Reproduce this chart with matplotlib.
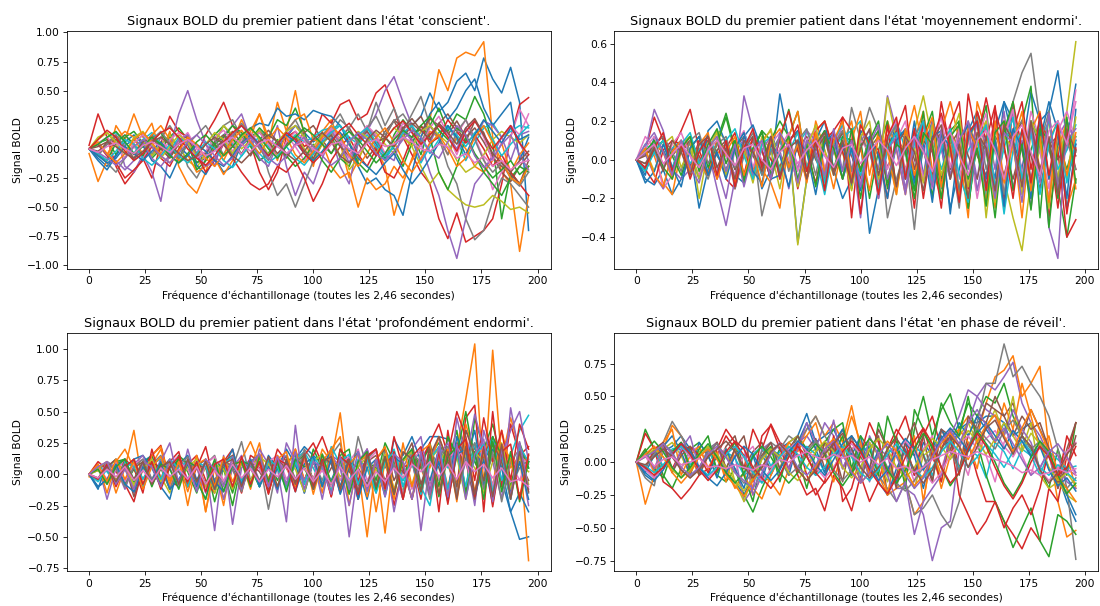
import numpy as np
import matplotlib
matplotlib.use("Agg")
import matplotlib.pyplot as plt

# BOLD signals of the first patient, one list per region, sampled every 4th frame.
# Values are stored in hundredths of the signal unit.
step = 4

# --- state: conscient ---
cons_00 = [0, -8, -15, -5, 3, 8, 2, -6, 4, 10,
           2, -5, -12, -8, 2, 6, -4, 3, 10, 16,
           8, 2, 10, 20, 14, 6, 12, 18, 8, -2,
           6, 14, 4, -8, 2, 12, 20, 28, 48, 32,
           40, 58, 65, 50, 78, 60, 48, 70, 40, -70]
cons_01 = [-4, -28, -10, 20, 8, 30, 10, 22, -5, 15,
           -15, -30, -38, -20, 5, -10, 6, 25, 10, 30,
           5, 40, 15, 50, 10, -15, 15, 25, 5, -25,
           -10, 8, 0, -15, -57, -30, -8, 10, 25, 68,
           50, 78, 83, 80, 92, 10, -20, -30, -88, -40]
cons_02 = [0, 5, 8, -5, 10, 15, 5, -8, 0, 10,
           18, 8, -12, -5, 12, 20, 10, -5, 8, 18,
           10, 25, 20, 35, 15, -10, 5, 12, -8, -15,
           5, 18, 10, -10, 12, 25, 15, -5, 20, 35,
           15, 30, 25, 45, 30, 5, -60, -20, -30, -15]
cons_03 = [3, 30, 10, -15, -30, -20, -8, -25, 5, 28,
           15, 10, -5, 12, 25, 40, 20, 10, 5, -20,
           -35, -20, 10, 15, 2, 8, 30, 22, 38, 42,
           25, 30, 48, 55, 35, 10, -5, -20, -30, -60,
           -77, -55, -80, -75, -70, -60, -30, 10, 38, 44]
cons_04 = [0, -5, 5, 12, -15, -20, -5, -20, -45, 0,
           30, 50, 25, 5, -15, 12, 20, 30, 8, -10,
           -5, 20, -15, -40, -20, -30, -8, 10, -15, -30,
           5, 15, 30, 50, 62, 40, 20, 5, -20, -40,
           -70, -94, -60, -30, -20, -5, 10, 20, 5, -10]
cons_05 = [0, -4, 6, 10, 2, -8, 4, 12, 2, -6,
           5, 12, -4, -10, 0, 8, 15, 5, -6, 8,
           16, 6, -8, 4, 14, 20, 8, -4, 10, 18,
           5, -8, 2, 15, 24, 10, 20, 28, 12, 22,
           30, 18, 6, 24, 14, -6, -20, -28, -15, -5]
cons_06 = [0, 4, -5, 8, 12, 2, -8, 5, 10, -4,
           6, 14, 0, -10, 4, 10, -2, 8, 14, 4,
           -6, 6, 12, 2, -10, 0, 10, 16, 4, -8,
           8, 14, 2, -6, 10, 18, 6, 14, 20, 8,
           -4, 12, 25, 10, -8, -35, -20, 10, 34, 20]
cons_07 = [0, -5, -12, -20, -8, 5, 12, -5, 10, 20,
           8, -15, -25, -10, 5, 20, 25, 10, 18, 8,
           -20, -40, -30, -50, -30, -10, 5, 12, 25, 18,
           30, 15, 40, 20, 35, 15, 30, 45, 20, 10,
           -15, -30, -60, -78, -70, -45, -25, -30, -40, -50]
cons_08 = [0, 10, 14, 4, -8, 2, 8, -6, 4, 12,
           2, -10, -16, -4, 6, 20, 12, 0, 8, 16,
           4, -6, 4, 12, 0, -10, 4, 14, 6, -18,
           -8, 6, 14, 4, -4, 10, 2, -15, -30, -20,
           -35, -42, -48, -50, -48, -40, -45, -52, -50, -55]
cons_09 = [0, 4, 10, 14, 6, -4, 8, 14, 4, -2,
           10, 4, -8, -4, 6, 12, 4, -6, 4, 10,
           2, -8, 4, 12, 6, 10, 16, 18, 20, 10,
           4, 12, 2, -10, 4, 16, 8, -12, 2, 14,
           20, 8, -10, 5, 18, 22, 10, 15, 20, 18]
cons_10 = [0, -10, -18, -6, 6, 12, 4, -10, -15, -25,
           -8, 4, -14, -22, -8, -20, -15, 5, 18, 22,
           20, 35, 28, 30, 25, 33, 30, 28, 20, 5,
           -15, -30, -25, -35, -40, -57, -20, 10, 30, 40,
           25, 35, 50, 60, 35, 20, 30, 40, -10, 10]
cons_11 = [0, 5, -5, 8, 15, 10, -5, 12, 20, 8,
           -10, -5, -20, -15, -8, -22, -10, 5, 15, 30,
           10, -10, 15, 25, 30, 8, 5, -15, -25, -20,
           -50, -25, -35, -30, -15, -25, -10, 5, 15, 10,
           -5, 10, 0, -15, -20, -10, 5, -20, -5, 5]
cons_12 = [0, -5, -10, 5, 12, 4, -6, 8, 14, 2,
           -8, 6, -18, -10, 4, 10, 20, 14, 2, -10,
           -4, 8, -6, -15, -8, 4, -10, -20, -8, 6,
           -12, -20, -6, 10, 0, -15, 5, 20, 10, -20,
           -35, -15, 10, -5, -20, -30, -40, -25, -15, -20]
cons_13 = [0, 4, -6, -12, -25, -18, -10, 2, -8, -15,
           0, 10, -5, -20, -10, 4, -8, -20, -30, -35,
           -30, -15, -20, -10, -25, -45, -30, -10, 2, 10,
           -5, -15, 0, -20, -25, -10, 10, 20, 5, 10,
           25, 15, 5, 12, 0, -15, -5, -20, -30, -40]
cons_14 = [0, 5, -5, -10, -18, -10, 5, -8, -15, -5,
           8, 12, -5, -15, -10, 5, 12, 20, 10, -8,
           -15, 5, 12, 20, 10, -5, 8, 15, 5, -12,
           8, 18, 10, -5, -10, 15, 8, -10, 5, 22,
           12, 0, 18, 8, 24, 20, 10, -10, 12, 15]
cons_15 = [0, -2, 4, 8, 2, -5, 6, 10, 0, -8,
           4, 8, -6, -4, 6, 12, 2, -4, 8, 14,
           6, -4, 4, 10, -2, -8, 6, 12, 2, -6,
           8, 15, 5, 10, 25, 18, 22, 15, 26, 20,
           12, 24, 10, 18, 6, -8, -15, -22, -30, -10]
cons_16 = [0, 5, 10, 2, -8, 5, 12, 4, -6, 8,
           14, 5, -8, -2, 10, 16, 6, -5, 8, 14,
           4, -8, 6, 15, 8, -4, 10, 18, 8, -6,
           10, 20, 12, -4, 8, 22, 14, 2, 18, 28,
           12, -5, 15, 25, 10, -10, 5, 20, 12, 30]
cons_17 = [0, -6, 4, 12, 2, -10, -4, 8, 15, 5,
           -8, 4, 12, 20, 8, -5, 10, 22, 12, 0,
           -10, 5, 15, 25, 10, -5, 12, 20, 30, 15,
           5, 18, 28, 12, 24, 30, 18, 6, 20, 10,
           -5, 15, 25, 8, -10, -20, -12, -25, -32, -20]
cons_18 = [0, 8, 14, 6, -4, 10, 15, 4, -8, 2,
           12, 6, -6, 4, 14, 8, -4, 10, 18, 8,
           -5, 6, 15, 20, 10, 2, 12, 8, -6, 5,
           15, 10, -4, 8, 18, 12, 2, 15, 20, 12,
           5, -10, -20, -15, -5, 8, 15, 10, 5, 12]
cons_19 = [0, -4, -10, -2, 8, 4, -8, -14, -6, 4,
           -6, -12, -4, 6, 0, -10, -16, -6, 4, -4,
           -12, -6, 2, -8, -14, -4, 6, 14, 20, 8,
           12, 18, 6, -6, 2, 14, 20, 10, -4, 8,
           18, 12, 2, 14, 20, 8, -6, 4, 12, 20]
cons_20 = [0, -6, -12, -8, 2, -4, -10, -2, 6, -5,
           -12, -6, 4, -2, -10, -15, -6, 5, 12, 4,
           -6, 5, 12, 6, -4, -10, -2, 8, 14, 4,
           -8, -15, -22, -12, -4, -18, -30, -20, -8, 5,
           20, 10, -5, 12, 25, 15, 5, 18, 8, 12]
cons_21 = [0, 6, -4, -12, -4, 8, 14, 6, -6, -12,
           -2, 10, 4, -8, -15, -5, 8, 16, 6, -4,
           8, 18, 10, -5, -12, -2, 10, 20, 12, -5,
           -15, -4, 10, 18, 6, -10, -20, -8, 5, 12,
           0, -15, -8, 10, 20, 5, -10, -25, -30, -15]
cons_22 = [0, 4, 10, 15, 6, -4, 2, 10, 4, -6,
           -12, -4, 6, 12, 4, -6, 2, 12, 18, 10,
           0, -8, 2, 10, 18, 12, 4, -4, 8, 15,
           8, -2, -12, -4, 8, 16, 10, 20, 28, 16,
           8, 18, 12, -4, -15, -25, -18, -10, -22, -15]
cons_23 = [0, 8, 16, 10, -2, -10, -4, 6, 14, 18,
           10, 0, -8, -14, -6, 6, 14, 20, 12, 2,
           -6, 4, 14, 8, -4, -12, -4, 6, 16, 22,
           12, 4, -6, 8, 18, 24, 14, 4, 12, 20,
           10, -2, 15, 24, 12, 0, 10, 20, 5, -5]
cons_24 = [0, -3, -8, -14, -8, 2, 8, 2, -6, -12,
           -4, 6, 12, 4, -6, -14, -8, 4, 10, 2,
           -8, -14, -6, 4, 10, 2, -6, -14, -8, 6,
           14, 8, -4, -10, -2, 8, 16, 10, -2, -8,
           6, 20, 12, -6, -16, -8, 4, 12, -5, -18]
cons_25 = [0, 2, 6, 2, -4, -8, -2, 6, 10, 4,
           -4, -10, -6, 4, 10, 4, -6, -12, -4, 6,
           12, 6, -4, -10, -2, 8, 14, 6, -6, -12,
           -4, 8, 16, 10, 2, 18, 26, 16, 8, 22,
           14, 4, 18, 26, 12, -4, -12, -20, -10, -2]
cons_26 = [0, -3, 2, 5, 0, -4, 3, 6, 2, -3,
           4, 8, 2, -6, -2, 5, 10, 4, -2, 5,
           8, 2, -4, 3, 6, 0, -5, 4, 6, 0,
           -4, 5, 8, 2, 4, 10, 6, 0, -2, 4,
           2, -8, -4, -12, -6, -15, -10, -18, -12, -10]

# --- state: moyennement endormi ---
moy_00 = [0, -10, -13, -5, -18, -10, 5, -25, -5, 10,
          2, -8, -12, 5, -15, -5, 34, 10, -43, -10,
          5, 15, -5, -20, -10, 10, -38, -15, 5, 18,
          10, -15, 5, 20, 8, -25, -5, 15, 25, 10,
          -10, 30, 20, 5, 35, 20, 25, 46, 10, 39]
moy_01 = [0, 5, 2, -12, -18, 5, 8, -2, 10, 3,
          8, -12, 5, 10, -5, -12, -25, 10, 15, -10,
          20, 5, -15, 8, 20, -10, 5, -15, 20, 5,
          -18, 10, 25, -5, -20, 15, 5, -30, 30, 15,
          -25, 10, 30, -15, 20, -5, 10, 20, -25, -10]
moy_02 = [0, 5, 8, 4, -6, 8, 12, -4, 5, 10,
          24, 6, -8, 4, 15, 10, 20, 12, 25, -5,
          10, -15, 5, 15, -10, 10, -20, 5, 20, -15,
          10, -5, 25, -20, 15, -10, 20, -25, 10, 28,
          -20, 15, 10, 20, 38, -30, 25, -15, -40, -10]
moy_03 = [0, 5, 22, 10, 5, 15, 26, 5, -8, 10,
          -10, -15, 5, -8, 10, 0, -5, 10, -15, 5,
          -12, 10, 15, 22, -30, 15, 10, -20, 18, -15,
          10, -25, 20, -10, 30, 5, -20, 34, 10, 32,
          10, -25, 30, 5, -20, 15, -30, 5, -40, -31]
moy_04 = [0, 5, 26, 15, -5, -10, -5, 10, 5, -15,
          -34, -10, 33, 15, 5, -10, 5, -15, 10, -5,
          5, 15, 10, -10, 5, -30, 10, -5, 33, 15,
          -10, 5, 20, -15, 10, 5, -20, 15, -10, 20,
          -5, 25, -15, 10, -25, 15, -35, -51, 20, 10]
moy_05 = [0, 3, 6, -4, 2, 8, -3, 5, 10, 2,
          -5, 6, 12, 2, -6, 4, 10, -2, 6, 12,
          0, -8, 5, 14, 2, -10, 6, 12, -4, 8,
          15, 0, -10, 8, 14, -5, 10, 18, 2, -8,
          12, 5, -10, 8, 15, -5, 10, 0, 8, 2]
moy_06 = [0, 12, 6, -15, -8, 5, 10, -5, 8, 15,
          2, -8, 5, 12, -4, 8, 14, 0, -10, 6,
          14, 2, -6, 10, 4, -12, 8, 15, -5, 10,
          20, -5, 15, -15, 10, 18, -10, 12, -20, 5,
          20, -10, 15, -5, 25, 10, -15, 20, 5, 36]
moy_07 = [0, -2, 3, 10, -8, 5, 12, 0, -10, 5,
          8, -15, 2, 10, -29, -10, 5, 12, -5, 10,
          -8, 15, 5, -5, 27, 10, 27, 15, -30, -10,
          5, -36, 10, 15, -15, 5, -25, 20, 5, -20,
          15, 10, 30, 45, 55, 20, 5, -10, 15, 5]
moy_08 = [0, 4, 10, 5, -6, 8, 12, -20, 5, 15,
          10, -5, 8, -10, 12, 5, -15, 10, -44, -10,
          12, 5, -8, 10, -15, 20, 5, -10, 32, 10,
          -5, 15, 33, 10, -20, 5, -15, 10, 20, -30,
          10, -10, -30, -47, -10, 5, 20, -10, 25, 61]
moy_09 = [0, 8, 4, -5, 6, 10, -2, 5, 12, 3,
          -6, 8, 14, 4, -8, 5, 10, -4, 8, 15,
          2, -18, 6, 12, 15, 20, 5, -8, 10, 20,
          5, -12, 8, 15, -5, 10, -15, 5, 12, -20,
          8, -28, 5, 15, -15, 10, 20, -5, 5, 18]
moy_10 = [0, -8, 12, 5, -5, 10, 4, -10, 15, 20,
          8, -5, 12, 18, 5, -10, -8, 10, 15, -5,
          10, 20, -5, 8, -15, 15, 10, -12, 5, 15,
          -10, 20, -8, 12, 15, -28, 10, 18, 5, -10,
          15, 30, 10, -5, 20, 10, 30, 15, -20, 26]
moy_11 = [0, -5, 8, 4, -10, 5, 10, -2, -8, 10,
          5, -12, 8, -5, 10, 15, -8, 12, 25, -5,
          15, 20, 5, -10, 10, 25, -8, 15, 5, -15,
          10, 28, 5, -12, 15, 30, 10, -20, 25, 5,
          -15, 20, 10, -30, 15, 25, -10, 5, 20, -15]
moy_12 = [0, -6, 5, 10, 2, -8, 6, 12, -4, 8,
          22, 4, -10, 5, 15, -5, 10, 26, 5, -10,
          8, 15, -5, 12, 10, -20, 8, 15, -15, 10,
          5, -20, 12, 25, -10, 15, 20, -25, 10, 5,
          -30, 15, 30, -10, 5, 20, -35, 10, -5, 12]
moy_13 = [0, -5, -12, 5, 10, 8, -6, 10, 5, -10,
          6, 14, -8, 12, 5, -10, 12, 25, 5, -10,
          15, 20, 5, 22, 15, -28, 10, 5, -20, 15,
          28, -10, 20, 5, -25, 18, 30, -15, 25, 10,
          28, -20, 15, 30, -5, 20, 10, -25, 15, -5]
moy_14 = [0, 3, -8, -15, 4, 10, -5, 8, 12, -4,
          -20, 6, 10, -8, 5, 12, -10, 8, -5, 15,
          10, -12, 5, 18, -5, 10, 15, -20, 5, 12,
          -15, 10, -8, 20, 5, -10, 15, -5, 20, 8,
          -15, 10, 25, -10, 15, 5, -20, 12, 20, 8]
moy_15 = [0, 2, 8, 12, -5, 4, 10, 2, -8, 5,
          10, -5, 6, 12, -2, 8, -4, 10, 14, -6,
          5, 12, -8, 6, 10, -5, 12, 2, -10, 8,
          15, -5, 10, 4, -12, 8, 15, 2, -10, 12,
          5, -8, 10, 20, 2, -15, 8, 12, -10, 5]
moy_16 = [0, 6, 12, -4, 8, 14, 2, -8, 6, 12,
          -2, 8, 15, -4, 10, -8, 6, 14, -6, 10,
          16, -4, 8, 18, -8, 10, 4, -12, 12, 20,
          -6, 14, -10, 8, 22, -4, 16, -12, 10, 24,
          -15, 12, 26, -8, 18, 5, -20, 15, 25, 10]
moy_17 = [0, -4, 8, 12, 4, -6, 10, 14, -2, 8,
          12, -4, 6, 14, -8, 4, 12, -6, 10, 16,
          2, -10, 8, 15, -6, 12, 4, -14, 10, 18,
          -8, 12, 20, -10, 8, 15, -16, 10, 22, -5,
          12, -18, 15, 20, -10, 8, 25, -12, 10, -5]
moy_18 = [0, 5, -6, 8, 12, -4, 6, -10, 4, 14,
          -8, 10, 4, -12, 8, 16, -6, 10, -14, 6,
          18, -8, 10, 4, -16, 12, 20, -10, 8, -18,
          14, 6, -12, 18, -8, 10, 24, -14, 8, 20,
          -22, 12, 6, -18, 20, 10, -25, 15, -10, 22]
moy_19 = [0, -6, 4, 10, -4, 8, 14, -2, 6, -8,
          10, 16, 2, -10, 8, 12, -6, 4, 14, -4,
          8, -12, 10, 18, 4, -8, 12, -16, 6, 14,
          -10, 8, 20, -12, 6, 16, -8, -22, 10, 18,
          -14, 6, 22, -10, 14, -18, 8, 20, -12, 10]
moy_20 = [0, -12, -6, 8, -4, -14, 6, 12, -8, 4,
          -10, 6, 14, -6, -12, 8, 2, -14, 10, 4,
          -18, 8, 14, -10, 6, -16, 12, 2, -20, 10,
          16, -12, 8, -22, 14, 6, -18, 12, 20, -14,
          10, -24, 16, 6, -20, 22, -10, 14, -26, 8]
moy_21 = [0, 6, -8, -14, 4, 10, -6, 8, 14, -10,
          4, 12, -8, 6, -14, 10, 16, -4, 8, -12,
          14, -6, 10, 20, -10, 6, -16, 12, 4, -18,
          16, -8, 10, 22, -14, 8, -20, 16, 6, -22,
          20, -12, 8, 25, -16, 12, -22, 18, -8, 14]
moy_22 = [0, 4, 10, -4, -10, 6, 12, -6, 8, 16,
          -2, 10, -12, 6, 14, -8, 4, 12, -10, 8,
          -14, 12, 6, -10, 16, -6, 10, 20, -12, 8,
          4, -16, 14, 8, -20, 12, 18, -10, 6, -24,
          14, 20, -16, 8, -26, 16, 10, -20, 22, -12]
moy_23 = [0, -4, 6, 14, -6, 8, -10, 4, 12, -8,
          10, -14, 6, 16, -4, 12, -10, 8, 18, -6,
          10, -16, 14, 4, -12, 18, 8, -18, 12, 22,
          -10, 16, -20, 10, 24, 6, -22, 14, 20, -16,
          26, 8, -20, 16, -12, 24, -8, 18, -28, 6]
moy_24 = [0, 8, 14, 4, -8, 10, -4, -12, 6, 12,
          -6, 8, -14, 4, 10, -10, 14, 6, -12, 10,
          4, -8, 16, -6, 10, -14, 8, 18, -10, 6,
          -18, 12, 6, -14, 16, -8, 10, 20, -16, 8,
          -20, 14, 8, -22, 18, -12, 24, -16, 10, 16]
moy_25 = [0, -2, 6, -6, 10, 4, -8, 8, 12, -4,
          6, -10, 10, 4, -6, 12, -8, 6, 10, -10,
          8, 14, -6, 10, -12, 6, 16, -8, 10, -14,
          12, 4, -16, 10, 18, -10, 8, -20, 14, 6,
          -16, 18, 10, -14, 20, -8, 12, -18, 16, 4]
moy_26 = [0, 4, 8, -2, 3, 8, 2, -4, 5, 10,
          3, -3, 6, 8, 0, -5, 4, 8, -2, 5,
          10, 2, -4, 6, 8, -2, 4, 10, 5, -3,
          6, 12, 4, -6, 8, 14, 2, -8, 10, 15,
          5, -10, 12, 18, 4, -8, 15, 20, 8, 30]

# --- state: profondément endormi ---
prof_00 = [0, -10, -5, 8, 12, -5, 10, 15, -8, 5,
           10, -4, 8, -10, 5, 12, -12, 10, 5, -8,
           15, 5, -10, 12, 22, 15, 8, -5, 12, -15,
           5, -20, 10, 5, 15, -10, 8, 20, 30, 30,
           28, 15, 35, 20, 10, 25, -5, -30, -52, -50]
prof_01 = [-2, -5, 10, -15, 5, 35, -10, 8, 20, -5,
           12, -25, 10, -30, 5, -25, 15, -10, 5, 25,
           -15, 10, 5, -10, 15, -5, 20, 10, 49, -10,
           5, -50, 10, -47, 15, -20, 10, 5, -15, 20,
           -10, 20, 60, 104, -10, 99, 10, 45, 20, -69]
prof_02 = [0, 5, -8, 10, 12, -5, 8, 15, -10, 5,
           12, 2, -15, 8, -22, 5, -25, 10, 5, -10,
           12, -5, 10, 15, -8, 20, 5, -10, 15, 20,
           -20, 10, 5, -15, 12, -5, 20, -10, 15, 25,
           10, 35, -15, 45, 20, 40, 10, -20, 25, 5]
prof_03 = [0, 5, 10, 2, -8, -22, 5, 15, 23, -5,
           -10, 8, 15, -5, -15, 10, 20, -10, 5, 15,
           -15, 10, -10, 20, -5, 15, 30, 10, -15, 5,
           -20, 20, -10, 15, -25, 5, 10, -20, 25, -30,
           35, -10, 45, 55, -30, 50, -10, 40, 15, 22]
prof_04 = [0, 8, -20, 5, 10, -15, 8, -5, 12, 5,
           -10, 20, -5, 8, -45, 15, -40, 5, 12, -5,
           8, 5, -38, 39, -15, 10, -8, 15, 10, -50,
           5, 20, -10, 15, -30, 5, 20, -45, 10, 30,
           -20, 45, 15, -25, 35, 10, -20, 53, 15, -25]
prof_05 = [0, 3, 10, -5, 8, -18, 5, 10, -3, 8,
           2, -10, 6, 12, -5, 8, 4, -8, 10, 5,
           -12, 8, 14, -4, 6, 10, -8, 5, 12, 2,
           -6, 10, 15, -5, 8, 2, -10, 12, 20, 5,
           -15, 25, 10, -20, 15, 30, 5, -15, 20, 10]
prof_06 = [0, 5, -8, 4, 10, -5, 6, 12, -2, 8,
           15, -5, 10, -8, 5, 12, -10, 8, 4, -6,
           10, 15, -4, 6, 12, -8, 5, 15, -5, 10,
           20, -5, 8, -10, 15, 5, -12, 10, 25, -5,
           12, 20, -10, 15, 5, -15, 20, 10, -5, 15]
prof_07 = [0, 4, 8, -6, 5, 12, -4, 8, 15, -5,
           10, 4, -12, 8, 15, -8, 5, 26, -5, 10,
           -28, 8, 15, -5, 20, 10, -5, 15, 25, -10,
           30, 5, -15, 20, 5, -20, 15, 5, -10, 20,
           8, -15, 25, 10, -5, 15, 20, -10, 5, 12]
prof_08 = [0, 3, -5, 8, 4, -8, 6, 10, -2, -15,
           8, 4, -10, 6, -15, 5, 10, -5, 8, 12,
           -3, 6, -8, 10, 4, -6, 8, 12, -2, 5,
           -10, 8, 4, -12, 10, 5, -8, 15, -5, 10,
           20, -10, 15, 5, -15, 10, 25, -5, 8, 2]
prof_09 = [0, 6, 2, -8, 5, 10, -4, 8, 12, -2,
           6, 10, -5, -20, 8, 5, -10, 12, 6, -5,
           10, 4, -8, 12, 18, 5, -10, 22, 8, -5,
           12, 5, -15, 10, 20, -5, 8, -10, -25, 15,
           5, 20, -10, 25, 10, 30, -5, 15, 35, 47]
prof_10 = [0, -12, 10, 5, -8, 12, 15, 5, -10, -20,
           8, 15, -5, 10, -12, 5, 20, -8, 10, 15,
           -10, 5, 20, 8, -15, 10, 5, 20, -10, 15,
           -20, 5, 12, -10, 28, 15, 30, 10, -5, 20,
           -15, 30, 10, 35, -10, 20, 5, -30, -15, -30]
prof_11 = [0, 8, -15, 10, 20, 5, -10, 15, 22, -5,
           10, -8, 15, -30, 10, -20, 5, 12, 26, 8,
           -10, 15, 5, 20, -5, 12, -15, 20, 30, -25,
           10, 15, -30, 10, -20, 25, -10, 15, 5, 30,
           10, -15, 40, 15, 20, -10, 35, 5, 15, 10]
prof_12 = [0, -5, 5, 12, -8, 4, -10, 10, 5, -12,
           15, 8, -5, -20, 10, 5, -15, 10, 8, -10,
           12, 5, -8, 10, 15, -5, 10, -15, 20, 5,
           -10, 15, -5, 25, 10, -15, 20, 5, 25, -10,
           30, 15, 50, 10, -5, 30, 15, -10, 20, 5]
prof_13 = [0, 10, 4, -8, 12, 5, -15, 20, -5, 10,
           18, -10, 5, 22, -8, 12, 5, -15, 15, 10,
           -5, 20, 10, -12, 15, 25, 8, -18, 20, 10,
           -5, 15, 20, -10, 30, 5, -20, 10, 25, 40,
           15, 50, 30, -5, 45, 10, 35, -5, 40, 20]
prof_14 = [0, -5, 10, 5, -12, 8, 15, -5, 10, 25,
           -8, 12, 5, -15, 10, -20, 5, 15, -10, 20,
           8, -15, 25, 10, -5, 12, -20, 15, 5, -25,
           10, 20, -10, 15, 5, -20, 20, 30, -10, 15,
           25, -15, 10, 48, 20, -10, 15, 35, 50, 10]
prof_15 = [0, -4, 6, 12, -6, 5, 10, -8, 4, 12,
           2, -10, 8, 5, -12, 10, 15, -5, 8, 2,
           -10, 12, 5, -6, 10, -4, 15, 8, -12, 10,
           5, -8, 12, 20, -5, 10, 25, -8, 15, 30,
           10, -10, 35, 15, -5, 25, 10, -15, 10, -5]
prof_16 = [0, 6, -4, 10, -6, 8, 12, -8, 6, -10,
           10, 4, -12, 8, 14, -6, 10, -8, 12, 4,
           -10, 14, 6, -12, 10, -4, 16, -10, 8, 14,
           -12, 10, 18, -8, 14, -16, 10, 20, -12, 16,
           -18, 22, 10, -15, 25, -10, 18, -20, 15, 8]
prof_17 = [0, -4, 8, 4, -10, 6, 12, -4, 8, -12,
           6, 14, -8, 10, -6, 12, 4, -14, 10, 16,
           -6, 12, -10, 8, 18, -8, 10, -16, 14, 6,
           -14, 12, 20, -10, 8, -18, 16, 10, -20, 14,
           22, -16, 12, 25, -12, 18, -22, 10, 20, -15]
prof_18 = [0, 5, 10, -6, 8, -10, 4, 12, -6, 10,
           -8, 6, 12, -10, 8, 4, -12, 10, -6, 14,
           8, -10, 12, 4, -14, 10, 16, -8, 12, -12,
           6, 14, -10, 16, -12, 10, 18, -14, 12, 20,
           -16, 14, -20, 18, 10, -18, 20, -12, 14, -8]
prof_19 = [0, -6, 4, -8, 10, 6, -10, 8, -4, 12,
           4, -10, 10, 6, -12, 8, 14, -6, 10, -10,
           12, 6, -12, 10, -8, 14, 4, -14, 10, 16,
           -8, 12, -14, 10, 18, -10, 14, -16, 12, 22,
           -12, 18, -18, 14, 24, -14, 16, -20, 22, 10]
prof_20 = [0, -10, -4, 8, -8, -14, 6, -6, 10, -12,
           -4, 8, -10, 12, -6, -14, 8, -8, 12, -10,
           6, -12, 10, -14, 8, 14, -10, 12, -16, 6,
           18, -12, 10, -18, 14, 8, -20, 16, -14, 10,
           -22, 16, 20, -18, 12, -24, 18, -16, 10, -20]
prof_21 = [0, 8, -6, 12, -4, 10, -12, 6, 14, -8,
           10, -14, 8, 12, -10, 14, -6, 10, -12, 16,
           -8, 12, 18, -10, 14, -16, 10, 20, -12, 8,
           16, -18, 12, 22, -14, 10, -20, 18, 24, -16,
           20, -22, 28, -14, 18, -20, 24, 12, -18, 15]
prof_22 = [0, 4, -8, 6, 12, -6, 10, -10, 8, 4,
           -12, 10, 6, -8, 12, -14, 8, 10, -10, 14,
           -6, 10, -14, 12, 6, -12, 16, -8, 12, -16,
           10, 18, -12, 14, -16, 12, 20, -14, 16, -18,
           14, 22, -16, 18, -20, 26, -14, 18, -22, 10]
prof_23 = [0, -4, 8, -10, 6, 12, -8, 10, -12, 6,
           14, -6, 10, -14, 8, 12, -10, 14, -8, 10,
           -16, 12, 8, -14, 16, -10, 12, -18, 14, 8,
           -16, 14, 20, -12, 18, -20, 14, 22, -16, 18,
           -24, 20, 28, -18, 22, -26, 18, 24, -20, 16]
prof_24 = [0, 6, 10, -8, 4, -12, 10, 6, -10, 12,
           -6, 10, -14, 12, 4, -10, 14, -12, 8, 16,
           -10, 14, -8, 18, -12, 10, 6, -16, 14, -12,
           18, -14, 12, -18, 16, 10, -20, 18, -16, 22,
           -18, 24, -20, 16, 28, -22, 20, -18, 26, -12]
prof_25 = [0, -3, 6, -6, 8, -4, 10, -8, 6, 10,
           -8, 12, -6, 10, -12, 8, 12, -10, 10, -6,
           14, -10, 12, -8, 16, -12, 10, 14, -12, 12,
           -14, 16, -10, 14, -16, 18, 12, -14, 20, -16,
           18, -20, 22, -16, 20, -18, 24, -20, 18, -14]
prof_26 = [0, -3, 4, -2, 6, -5, 3, -6, 5, -2,
           4, -4, 6, -8, 3, -5, 8, -3, 5, -6,
           4, -2, 7, -4, 5, -6, 3, -8, 6, -5,
           4, -10, 2, -6, 5, -3, 8, 2, 10, -2,
           8, -4, 10, 2, 8, -3, 5, -6, -4, -10]

# --- state: en phase de réveil ---
rev_00 = [0, -10, -15, 8, 12, 20, 10, -5, -10, 5,
          -8, -15, -25, -10, 5, -5, 10, 15, 20, 37,
          15, 20, 25, 10, -10, 15, 5, -15, -25, -5,
          10, -10, 15, 5, 20, 10, 25, 30, 30, 35,
          35, 30, 20, 25, 30, 15, 5, -10, -30, -45]
rev_01 = [0, -32, -10, 10, 28, 20, 5, -10, 5, 15,
          -5, -20, -8, -25, -10, -15, -25, -5, 10, 25,
          35, 20, 30, 15, 43, 10, -5, -10, -25, -20,
          -15, -40, -30, 10, -20, 5, 25, 35, 20, 45,
          65, 70, 81, 50, 60, 73, 10, -30, -57, -52]
rev_02 = [0, 25, 10, -10, -20, -5, 10, 15, 5, -10,
          -15, -5, -25, -38, -20, -5, 10, 5, 20, 10,
          -5, 15, 5, 20, -10, 5, -10, 30, 10, 20,
          -15, 25, 50, 20, 40, 52, 25, 45, 35, 50,
          45, 60, 35, 20, 10, -5, -20, 10, -10, 30]
rev_03 = [0, 22, 10, -15, -20, -28, -20, -10, -5, 5,
          20, 10, -5, 25, 10, 29, 15, 10, -10, -25,
          -20, -37, -10, -20, -37, -10, -30, -15, 10, 25,
          15, -10, 20, 35, 10, 25, -5, 15, -10, -30,
          -30, -45, -55, -66, -50, -60, -20, -30, 5, 30]
rev_04 = [0, -5, -12, 10, 5, 15, 8, -5, 10, 5,
          -10, 5, -30, -20, 10, 15, -10, 5, 15, 20,
          10, 30, 20, -5, 10, 15, -15, 10, 5, -20,
          -20, -25, -40, -75, -50, -45, 10, 30, 50, 60,
          55, 65, 76, 45, 30, 20, 5, -20, -5, -10]
rev_05 = [0, 5, 12, -5, 8, 15, -8, 5, 10, -5,
          12, 20, -5, 8, 15, -10, 5, 12, -8, 10,
          18, -5, 12, 25, 5, -15, 10, 20, -25, -10,
          15, 5, 20, -15, 25, 10, -5, 20, 35, 30,
          50, 35, 45, 20, 40, 25, 10, -20, 10, 30]
rev_06 = [0, 5, -8, 10, 4, -5, 8, 12, -4, 6,
          10, -8, 5, 12, -5, 8, 4, -6, 10, 5,
          -10, 8, 12, -5, 10, 15, -5, 8, -10, 12,
          5, -15, 10, 20, -5, 15, 8, -10, 20, 5,
          -15, 15, 25, 5, -10, 15, 10, -5, 8, 15]
rev_07 = [0, -12, -18, 15, 31, 20, 5, -8, 10, 15,
          -5, 10, -10, -5, 8, 15, 10, 20, 15, 25,
          35, 20, 10, 5, 20, -5, 15, -10, -20, -30,
          -15, -40, -35, -25, -40, -50, -30, 10, 30, 60,
          60, 90, 65, 73, 60, 50, 35, 10, -20, -74]
rev_08 = [0, 8, -5, 10, 15, 5, -10, 8, 12, -5,
          10, -15, -30, -10, 5, 10, -5, 15, 20, 5,
          10, 15, -5, 10, 5, -10, 15, 5, -15, 10,
          -5, -20, 5, 10, -15, 15, 20, 30, 15, 25,
          40, 20, 50, 10, 30, -10, -20, -15, -25, -30]
rev_09 = [0, 5, 8, -3, 10, 12, -2, 5, 10, -5,
          8, 3, -10, 6, 12, -3, 8, 10, -5, 12,
          6, -8, 10, 5, -4, 8, 12, -6, 10, 5,
          -8, 12, 6, -10, 8, 15, -5, 10, 5, -12,
          15, 8, -5, 10, 5, -10, 8, 2, -5, -3]
rev_10 = [0, -8, 5, 12, 20, 8, -10, 15, 5, -12,
          10, -5, -20, 5, -15, 10, 5, -10, 15, 30,
          10, -8, 15, 25, 5, 20, -10, 10, -5, -15,
          15, 5, -20, 10, 25, 15, 30, 20, 35, 25,
          15, 30, 10, 20, 5, 15, -5, -10, -25, -40]
rev_11 = [0, 10, -8, 15, 25, -10, 5, 12, -5, 8,
          -15, 10, 5, -20, -28, -10, 5, 15, 8, 20,
          30, 5, -15, 10, 35, 15, -10, 5, -25, 10,
          -15, 20, -30, 10, -10, 20, 25, 15, -5, 30,
          15, 45, 25, 60, 35, 10, 20, -10, 5, -20]
rev_12 = [0, 10, -5, -12, 8, 15, -5, 10, 20, -8,
          5, 15, -10, -30, 5, 12, -15, 10, 5, -20,
          8, 15, 25, 30, -5, 20, 10, -10, 35, 15,
          -20, 40, 25, 10, 45, 30, 20, 50, 15, -10,
          -30, -45, -65, -50, -35, -60, -72, -40, -45, -55]
rev_13 = [0, -5, 10, 15, -5, 8, 12, 5, -8, 10,
          25, 15, 5, -15, 20, 28, 10, -5, 15, -10,
          -25, -15, 20, -30, -20, 5, 30, 15, -10, 20,
          35, 10, 25, 5, -15, 20, -25, -40, -55, -45,
          -30, -50, -35, -25, -40, -20, 10, -15, 20, 5]
rev_14 = [0, 8, -5, 12, -8, 10, 20, -5, 8, 15,
          -10, 5, 12, -25, -10, 8, 15, -5, 10, 30,
          15, 5, 32, -5, 10, -15, 20, 5, -10, -30,
          -15, -55, -30, -20, -10, 20, 35, 55, 50, 40,
          35, 20, 40, 25, 15, -5, 10, 5, -15, -20]
rev_15 = [0, -5, 8, 15, -8, 5, 12, -10, 5, 15,
          -5, 10, 20, -10, 5, 15, -5, 10, 20, 5,
          -10, 15, 10, -15, 20, 10, -5, 25, 10, -20,
          15, 30, 5, -15, 25, 20, -10, 35, 25, 45,
          40, 35, 20, 35, 25, 30, 10, -15, -5, 20]
rev_16 = [0, -6, -12, -4, 6, 12, 4, -6, -12, -4,
          6, 12, 4, -8, -14, -6, 4, 10, 16, 8,
          -4, -12, -4, 8, 14, 6, -6, -14, -6, 8,
          16, 8, -6, -16, -8, 6, 14, 20, 10, 18,
          24, 12, 4, 16, 8, -6, -14, -6, 4, -10]
rev_17 = [0, -4, 6, 14, 8, -6, -12, -4, 8, 14,
          4, -8, -16, -8, 4, 10, 2, -10, -4, 8,
          16, 8, -6, -14, -6, 8, 18, 10, -4, -16,
          -22, -14, -4, 10, 18, 8, -6, 12, 26, 18,
          10, 24, 32, 20, 10, 16, 4, -10, -20, -12]
rev_18 = [0, 4, 10, 4, -6, -12, -6, 4, 12, 6,
          -4, -14, -22, -12, 2, 10, 4, -8, -14, -4,
          8, 16, 8, -4, -12, -4, 10, 18, 10, -4,
          -12, -4, 8, 18, 12, 2, 14, 24, 16, 6,
          18, 30, 20, 8, 22, 14, -4, -14, -8, -18]
rev_19 = [0, -3, -8, -2, 6, 12, 6, -4, -10, -4,
          6, 12, 4, -8, -16, -8, 4, 12, 6, -4,
          -10, -4, 6, 12, 4, -8, -14, -6, 6, 14,
          6, -6, -12, -4, 8, 16, 8, -4, 4, 14,
          6, -4, 8, 16, 8, -4, -10, -2, -8, -14]
rev_20 = [0, -8, -14, -6, 6, 14, 8, -4, -12, -18,
          -8, 4, 12, 6, -6, -14, -6, 8, 16, 10,
          -2, -10, 2, 14, 20, 10, -4, -14, -6, 8,
          18, 10, -6, 4, 18, 26, 18, 8, 22, 30,
          20, 10, 24, 16, 4, 12, -6, -18, -12, -22]
rev_21 = [0, 6, 12, 4, -8, -16, -8, 4, 10, 2,
          -10, -18, -26, -14, -4, 8, 14, 6, -6, -14,
          -4, 10, 18, 8, -6, -16, -8, 6, 16, 8,
          -6, -18, -10, 4, 14, 22, 12, 2, 16, 28,
          36, 20, 8, 26, 40, 24, 8, -12, -20, -30]
rev_22 = [0, 8, 16, 8, -4, -12, -4, 6, 14, 4,
          -8, -16, -8, 4, 12, 4, -8, -16, -8, 6,
          14, 6, -8, -18, -8, 8, 18, 10, -6, -16,
          -6, 10, 22, 12, -4, -18, -8, 10, 24, 14,
          0, -16, -26, -14, 4, 16, 8, -10, -24, -16]
rev_23 = [0, -4, -10, -4, 6, 14, 6, -6, -14, -6,
          8, 16, 10, -4, -12, -20, -10, 4, 12, 4,
          -8, -16, -6, 8, 16, 8, -6, -16, -24, -12,
          4, 16, 26, 14, -4, -16, -8, 10, 22, 12,
          -4, -18, -28, -16, 0, 12, 4, -10, -4, 12]
rev_24 = [0, 4, 8, 14, 6, -4, -10, -4, 6, 12,
          4, -8, -14, -20, -8, 6, 14, 8, -4, -10,
          -2, 10, 16, 6, -8, -16, -8, 6, 14, 4,
          -10, -20, -12, 4, 16, 24, 14, 30, 40, 28,
          16, 26, 14, 2, -10, -4, 8, 14, 4, -8]
rev_25 = [0, -2, 4, 10, 4, -6, -12, -6, 4, 10,
          16, 8, -4, -12, -4, 8, 14, 6, -6, -14,
          -6, 6, 14, 22, 10, -4, -12, -4, 10, 18,
          8, -6, -16, -6, 10, 20, 12, -4, 12, 26,
          32, 18, 6, 20, 12, -6, -16, -8, 6, 14]
rev_26 = [0, 5, -3, 2, 4, -2, 0, 3, -4, -3,
          -5, -2, -4, -6, -2, -4, 2, 0, 5, 8,
          4, 2, 6, 3, 5, 0, 4, -2, 3, -5,
          -3, -8, -4, 2, 5, 8, 6, 4, 8, 5,
          2, 0, -3, -8, -6, -10, -8, -5, -8, -5]

conscient = [cons_00, cons_01, cons_02, cons_03, cons_04, cons_05, cons_06, cons_07, cons_08,
             cons_09, cons_10, cons_11, cons_12, cons_13, cons_14, cons_15, cons_16, cons_17,
             cons_18, cons_19, cons_20, cons_21, cons_22, cons_23, cons_24, cons_25, cons_26]
moyen = [moy_00, moy_01, moy_02, moy_03, moy_04, moy_05, moy_06, moy_07, moy_08,
         moy_09, moy_10, moy_11, moy_12, moy_13, moy_14, moy_15, moy_16, moy_17,
         moy_18, moy_19, moy_20, moy_21, moy_22, moy_23, moy_24, moy_25, moy_26]
profond = [prof_00, prof_01, prof_02, prof_03, prof_04, prof_05, prof_06, prof_07, prof_08,
           prof_09, prof_10, prof_11, prof_12, prof_13, prof_14, prof_15, prof_16, prof_17,
           prof_18, prof_19, prof_20, prof_21, prof_22, prof_23, prof_24, prof_25, prof_26]
reveil = [rev_00, rev_01, rev_02, rev_03, rev_04, rev_05, rev_06, rev_07, rev_08,
          rev_09, rev_10, rev_11, rev_12, rev_13, rev_14, rev_15, rev_16, rev_17,
          rev_18, rev_19, rev_20, rev_21, rev_22, rev_23, rev_24, rev_25, rev_26]

states = ["conscient", "moyennement endormi", "profondément endormi", "en phase de réveil"]
signals = [conscient, moyen, profond, reveil]

plt.rcParams["font.size"] = 10.4
plt.rcParams["axes.titlesize"] = 12.5

# 15 in wide at ~73 dpi gives the 1100 px output
fig, axes = plt.subplots(2, 2, figsize=(15, 8.264))
fig.subplots_adjust(left=0.061, right=0.998, bottom=0.057, top=0.949, wspace=0.132, hspace=0.268)

for ax, state, regions in zip(axes.flat, states, signals):
    for region in regions:
        y = np.array(region) / 100.0
        x = np.arange(len(y)) * step
        ax.plot(x, y)
    ax.set_title(f"Signaux BOLD du premier patient dans l'état '{state}'.")
    ax.set_xlabel("Fréquence d'échantillonage (toutes les 2,46 secondes)")
    ax.set_ylabel("Signal BOLD")

fig.savefig("out.png", dpi=1100 / 15)
